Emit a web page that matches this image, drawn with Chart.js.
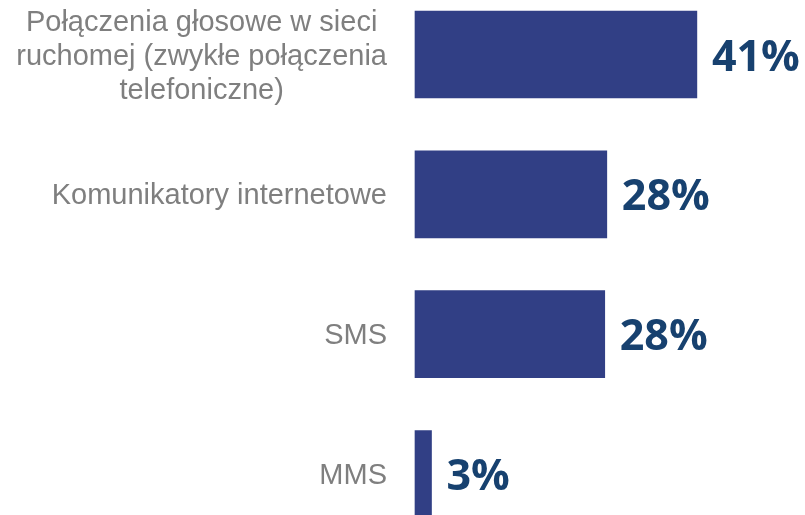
<!DOCTYPE html>
<html>
<head>
<meta charset="utf-8">
<script src="https://cdn.jsdelivr.net/npm/chart.js@4"></script>
<style>
html,body{margin:0;padding:0;background:#fff;}
#wrap{width:805px;height:515px;position:relative;}
</style>
</head>
<body>
<div id="wrap"><canvas id="c"></canvas></div>
<script>
const categories = [
  ["Połączenia głosowe w sieci", "ruchomej (zwykłe połączenia", "telefoniczne)"],
  ["Komunikatory internetowe"],
  ["SMS"],
  ["MMS"]
];
const values = [41, 27.9, 27.6, 2.4];
const valueLabels = ["41%", "28%", "28%", "3%"];

const BAR_COLOR = '#313F85';
const VALUE_COLOR = '#17416F';
const LABEL_COLOR = '#7F7F7F';

const labelPlugin = {
  id: 'labels',
  afterDraw(chart) {
    const ctx = chart.ctx;
    const y = chart.scales.y;
    ctx.save();
    // category labels
    ctx.font = '29px "Liberation Sans", Arial, sans-serif';
    ctx.fillStyle = LABEL_COLOR;
    ctx.textAlign = 'center';
    ctx.textBaseline = 'alphabetic';
    const lineH = 34;
    categories.forEach((lines, i) => {
      const cy = y.getPixelForTick(i);
      const rightX = y.right - 28;
      let w = 0;
      lines.forEach(l => { w = Math.max(w, ctx.measureText(l).width); });
      const cx = rightX - w / 2;
      const n = lines.length;
      lines.forEach((l, j) => {
        ctx.fillText(l, cx, cy + (j - (n - 1) / 2) * lineH + 10);
      });
    });
    // value labels
    ctx.font = 'bold 43px "Open Sans", sans-serif';
    ctx.fillStyle = VALUE_COLOR;
    ctx.textAlign = 'left';
    const meta = chart.getDatasetMeta(0);
    meta.data.forEach((el, i) => {
      ctx.fillText(valueLabels[i], el.x + 15, el.y + 16);
    });
    ctx.restore();
  }
};

new Chart(document.getElementById('c'), {
  type: 'bar',
  data: {
    labels: categories,
    datasets: [{
      data: values,
      backgroundColor: BAR_COLOR,
      borderWidth: 0,
      barThickness: 87,
      clip: false
    }]
  },
  options: {
    indexAxis: 'y',
    responsive: true,
    maintainAspectRatio: false,
    animation: false,
    layout: { padding: { top: 54.5, bottom: 41, left: 0, right: 5 } },
    plugins: { legend: { display: false }, tooltip: { enabled: false } },
    scales: {
      x: { display: false, min: 0, max: 56 },
      y: {
        offset: false,
        grid: { display: false },
        border: { display: false },
        ticks: { display: false },
        afterFit(s) { s.width = 415; }
      }
    }
  },
  plugins: [labelPlugin]
});
</script>
</body>
</html>
